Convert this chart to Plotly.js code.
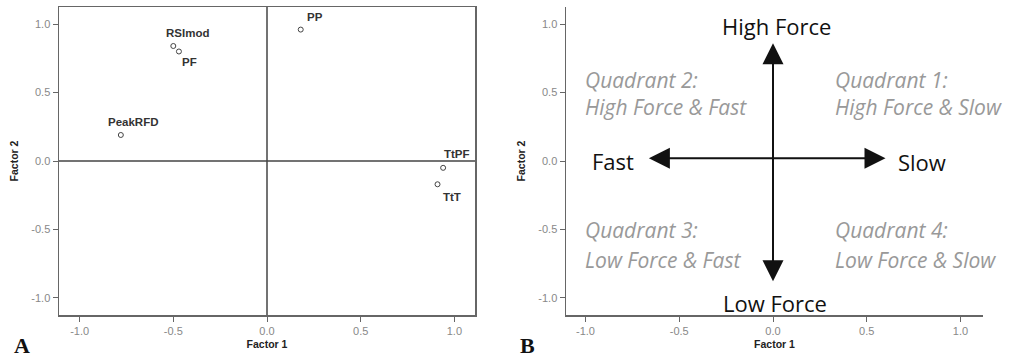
<!DOCTYPE html>
<html>
<head>
<meta charset="utf-8">
<script src="https://cdn.plot.ly/plotly-3.0.1.min.js"></script>
<style>html,body{margin:0;padding:0;background:#fff;}#chart{width:1009px;height:364px;}</style>
</head>
<body>
<div id="chart"></div>
<script>
// Panel A: factor loadings
const varNames = ['RSImod', 'PF', 'PeakRFD', 'PP', 'TtPF', 'TtT'];
const factor1 = [-0.50, -0.47, -0.78, 0.18, 0.94, 0.91];
const factor2 = [0.84, 0.80, 0.19, 0.96, -0.05, -0.17];
const tickVals = [-1, -0.5, 0, 0.5, 1];
const tickText = ['-1.0', '-0.5', '0.0', '0.5', '1.0'];

// Panel B: interpretation diagram
const poleLabels = ['High Force', 'Low Force', 'Fast', 'Slow'];
const quadrantTitles = ['Quadrant 1:', 'Quadrant 2:', 'Quadrant 3:', 'Quadrant 4:'];
const quadrantDescs = ['High Force & Slow', 'High Force & Fast', 'Low Force & Fast', 'Low Force & Slow'];
const vArrow = {x: [0, 0], y: [-0.89, 0.86]};
const hArrow = {x: [-0.67, 0.60], y: [0.02, 0.02]};

const labelShift = [[14, 13], [11, -11], [13, 13], [14, 13], [14, 14], [14, -13]];

const traces = [
  {
    x: factor1, y: factor2, xaxis: 'x', yaxis: 'y', type: 'scatter', mode: 'markers',
    marker: {symbol: 'circle-open', size: 5, color: '#444', line: {width: 1, color: '#444'}},
    hoverinfo: 'skip', showlegend: false
  },
  {x: [], y: [], xaxis: 'x2', yaxis: 'y2', type: 'scatter', mode: 'markers', showlegend: false}
];

const tickFont = {family: 'Liberation Sans, Arial, sans-serif', size: 11, color: '#888'};
const titleFont = {family: 'Liberation Sans, Arial, sans-serif', size: 10.5, color: '#222', weight: 'bold'};

function xAx(domain, mirror) {
  return {
    domain: domain, range: [-1.11, 1.11], tickmode: 'array', tickvals: tickVals, ticktext: tickText,
    ticks: 'outside', ticklen: 5, tickwidth: 1, tickcolor: '#666', tickfont: tickFont,
    showline: true, linecolor: '#666', linewidth: 1.5, mirror: mirror,
    showgrid: false, zeroline: false, fixedrange: true,
    title: {text: 'Factor 1', font: titleFont, standoff: 5}
  };
}
function yAx(domain, mirror, anchor) {
  return {
    domain: domain, range: [-1.125, 1.125], tickmode: 'array', tickvals: tickVals, ticktext: tickText,
    ticks: 'outside', ticklen: 5, tickwidth: 1, tickcolor: '#666', tickfont: tickFont,
    showline: true, linecolor: '#666', linewidth: 1.5, mirror: mirror, anchor: anchor,
    showgrid: false, zeroline: false, fixedrange: true,
    title: {text: 'Factor 2', font: titleFont, standoff: 10}
  };
}

const annotations = [];
varNames.forEach((n, i) => {
  annotations.push({
    x: factor1[i], y: factor2[i], xref: 'x', yref: 'y', text: n, showarrow: false,
    xshift: labelShift[i][0], yshift: labelShift[i][1],
    font: {family: 'Liberation Sans, Arial, sans-serif', size: 11.5, color: '#333', weight: 'bold'}
  });
});

// arrows in panel B
[vArrow, hArrow].forEach(a => {
  annotations.push({
    x: a.x[1], y: a.y[1], ax: a.x[0], ay: a.y[0],
    xref: 'x2', yref: 'y2', axref: 'x2', ayref: 'y2', text: '', showarrow: true,
    arrowhead: 2, startarrowhead: 2, arrowside: 'end+start', arrowsize: 2.1, startarrowsize: 2.1,
    arrowwidth: 2, arrowcolor: '#111'
  });
});

const poleFont = {family: 'Open Sans, sans-serif', size: 22, color: '#111'};
const polePos = [[0.02, 0.985], [0.01, -1.04], [-0.853, 0.0], [0.795, -0.01]];
poleLabels.forEach((t, i) => {
  annotations.push({x: polePos[i][0], y: polePos[i][1], xref: 'x2', yref: 'y2', text: t,
    showarrow: false, font: poleFont});
});

const qFont = {family: 'Open Sans, sans-serif', size: 21, color: '#999', style: 'italic'};
const qPos = [[0.32, 0.59, 0.394], [-1.013, 0.59, 0.394], [-1.013, -0.504, -0.723], [0.32, -0.504, -0.723]];
quadrantTitles.forEach((t, i) => {
  annotations.push({x: qPos[i][0], y: qPos[i][1], xref: 'x2', yref: 'y2', text: t, xanchor: 'left',
    showarrow: false, font: qFont});
  annotations.push({x: qPos[i][0], y: qPos[i][2], xref: 'x2', yref: 'y2', text: quadrantDescs[i], xanchor: 'left',
    showarrow: false, font: qFont});
});

// panel letters
const letterFont = {family: 'Liberation Serif, Times New Roman, serif', size: 22, color: '#111', weight: 'bold'};
annotations.push({x: 12 / 1009, y: 4 / 364, xref: 'paper', yref: 'paper', xanchor: 'left', yanchor: 'bottom',
  text: 'A', showarrow: false, font: letterFont});
annotations.push({x: 518 / 1009, y: 4 / 364, xref: 'paper', yref: 'paper', xanchor: 'left', yanchor: 'bottom',
  text: 'B', showarrow: false, font: letterFont});

const layout = {
  width: 1009, height: 364,
  margin: {l: 0, r: 0, t: 0, b: 0},
  paper_bgcolor: '#fff', plot_bgcolor: '#fff',
  showlegend: false,
  xaxis: xAx([59 / 1009, 475 / 1009], true),
  yaxis: yAx([49 / 364, 357 / 364], true, 'x'),
  xaxis2: Object.assign(xAx([566 / 1009, 983 / 1009], false), {anchor: 'y2', range: [-1.104, 1.12]}),
  yaxis2: yAx([49 / 364, 357 / 364], false, 'x2'),
  shapes: [
    {type: 'line', xref: 'x', yref: 'paper', x0: 0, x1: 0, y0: 49 / 364, y1: 357 / 364, line: {color: '#444', width: 1.5}},
    {type: 'line', xref: 'paper', yref: 'y', x0: 59 / 1009, x1: 475 / 1009, y0: 0, y1: 0, line: {color: '#444', width: 1.5}}
  ],
  annotations: annotations
};

Plotly.newPlot('chart', traces, layout, {staticPlot: true, displayModeBar: false});
</script>
</body>
</html>
